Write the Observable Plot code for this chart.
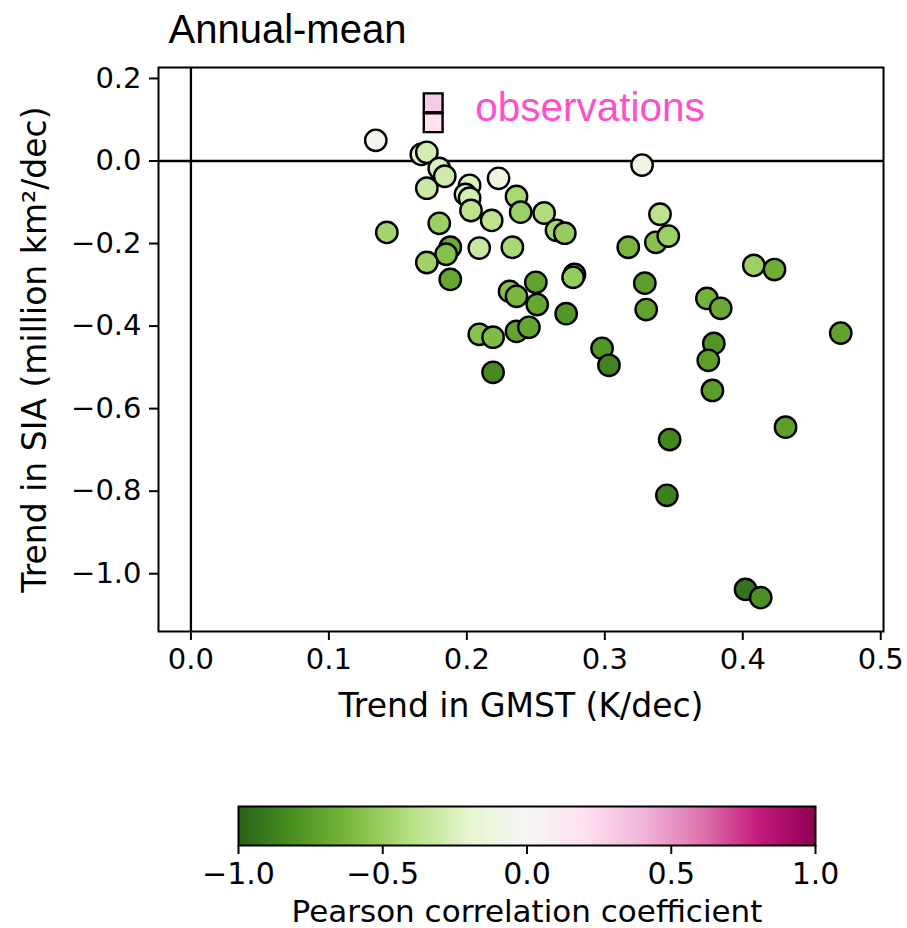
<!DOCTYPE html>
<html>
<head>
<meta charset="utf-8">
<script src="https://cdn.jsdelivr.net/npm/d3@7"></script>
<script src="https://cdn.jsdelivr.net/npm/@observablehq/plot@0.6"></script>
<style>
  html, body { margin: 0; padding: 0; background: #fff; }
  #fig { position: relative; width: 907px; height: 928px; overflow: hidden; }
  #main { position: absolute; left: 0; top: 0; }
  #cbar { position: absolute; left: 0; top: 790px; }
</style>
</head>
<body>
<div id="fig"><div id="main"></div><div id="cbar"></div></div>
<script>
// Per-model trends: GMST (K/dec), sea-ice area (million km²/dec),
// and the Pearson correlation coefficient used for the fill colour.
const gmstTrend = [
  0.134, 0.167, 0.171, 0.180, 0.184, 0.171, 0.202, 0.199, 0.202, 0.203,
  0.223, 0.218, 0.236, 0.239, 0.256, 0.265, 0.271, 0.142, 0.180, 0.188,
  0.185, 0.171, 0.209, 0.233, 0.188, 0.231, 0.236, 0.250, 0.251, 0.278,
  0.277, 0.272, 0.209, 0.219, 0.236, 0.245, 0.219, 0.298, 0.303, 0.327,
  0.340, 0.337, 0.346, 0.317, 0.329, 0.330, 0.408, 0.423, 0.374, 0.384,
  0.471, 0.379, 0.375, 0.378, 0.431, 0.347, 0.345, 0.402, 0.413
];
const siaTrend = [
  0.050, 0.016, 0.021, -0.018, -0.037, -0.066, -0.059, -0.081, -0.090, -0.120,
  -0.042, -0.144, -0.086, -0.124, -0.126, -0.168, -0.175, -0.173, -0.151, -0.209,
  -0.226, -0.246, -0.211, -0.209, -0.287, -0.316, -0.328, -0.294, -0.348, -0.275,
  -0.282, -0.370, -0.420, -0.427, -0.413, -0.403, -0.512, -0.454, -0.495, -0.010,
  -0.129, -0.197, -0.182, -0.209, -0.296, -0.360, -0.253, -0.263, -0.333, -0.357,
  -0.417, -0.442, -0.483, -0.556, -0.645, -0.675, -0.810, -1.038, -1.058
];
const pearsonR = [
  -0.03, -0.22, -0.28, -0.25, -0.30, -0.32, -0.25, -0.22, -0.28, -0.38,
  -0.12, -0.38, -0.45, -0.50, -0.42, -0.47, -0.52, -0.47, -0.50, -0.68,
  -0.58, -0.48, -0.33, -0.45, -0.70, -0.57, -0.63, -0.72, -0.70, -0.60,
  -0.52, -0.78, -0.57, -0.60, -0.72, -0.70, -0.83, -0.78, -0.86, -0.12,
  -0.38, -0.57, -0.50, -0.63, -0.74, -0.72, -0.50, -0.66, -0.64, -0.68,
  -0.72, -0.78, -0.74, -0.75, -0.74, -0.85, -0.88, -0.93, -0.80
];

// Observational estimates
const obsGmst = [0.1756, 0.1756];
const obsSia = [0.141, 0.0926];
const obsR = [0.30, 0.18];

// Axis ticks
const xTicks = [0, 0.1, 0.2, 0.3, 0.4, 0.5];
const yTicks = [0.2, 0, -0.2, -0.4, -0.6, -0.8, -1.0];
const cbarTicks = [-1, -0.5, 0, 0.5, 1];

// Diverging PiYG stops, green for negative correlation
const pivDomain = [-1, -0.8, -0.6, -0.4, -0.2, 0, 0.2, 0.4, 0.6, 0.8, 1];
const pivColors = ["#276419", "#4d9221", "#7fbc41", "#b8e186", "#e6f5d0", "#f7f7f7",
                   "#fde0ef", "#f1b6da", "#de77ae", "#c51b7d", "#8e0152"];

const models = gmstTrend.map((x, i) => ({x, y: siaTrend[i], r: pearsonR[i]}));
const obs = obsGmst.map((x, i) => ({x, y: obsSia[i], r: obsR[i]}));

const colorScale = {type: "linear", domain: pivDomain, range: pivColors, interpolate: "rgb"};
const fmt = d3.format(".1f");
const sans = "DejaVu Sans, sans-serif";
const helv = "Liberation Sans, Arial, sans-serif";

const main = Plot.plot({
  width: 907,
  height: 720,
  marginLeft: 158,
  marginRight: 24,
  marginTop: 67,
  marginBottom: 89,
  style: {fontFamily: sans, fontSize: "29px", color: "#000", background: "#fff", overflow: "visible"},
  x: {domain: [-0.0235, 0.502]},
  y: {domain: [-1.14, 0.2265]},
  color: colorScale,
  marks: [
    Plot.ruleY([0], {stroke: "#000", strokeWidth: 2.3}),
    Plot.ruleX([0], {stroke: "#000", strokeWidth: 2.3}),
    Plot.axisX({ticks: xTicks, tickFormat: fmt, tickSize: 9, tickPadding: 8, strokeWidth: 2, label: null, fontSize: 29}),
    Plot.axisY({ticks: yTicks, tickFormat: fmt, tickSize: 9, tickPadding: 8, strokeWidth: 2, label: null, fontSize: 29}),
    Plot.dot(models, {x: "x", y: "y", fill: "r", r: 10.7, stroke: "#000", strokeWidth: 2.4}),
    Plot.dot(obs, {x: "x", y: "y", fill: "r", symbol: "square", r: 10.6, stroke: "#000", strokeWidth: 2.4}),
    Plot.text(["observations"], {x: 0.206, y: 0.128, textAnchor: "start", fill: "#ff4fcb", fontSize: 40.5, fontFamily: helv}),
    Plot.frame({stroke: "#000", strokeWidth: 2}),
    Plot.text(["Annual-mean"], {frameAnchor: "top-left", textAnchor: "start", lineAnchor: "bottom", dx: 10, dy: -25, fontSize: 40, fontFamily: helv}),
    Plot.text(["Trend in GMST (K/dec)"], {frameAnchor: "bottom", lineAnchor: "middle", dy: 75, fontSize: 33}),
    Plot.text(["Trend in SIA (million km²/dec)"], {frameAnchor: "left", rotate: -90, textAnchor: "middle", lineAnchor: "middle", dx: -123, fontSize: 33})
  ]
});
document.getElementById("main").appendChild(main);

const cbar = Plot.plot({
  width: 907,
  height: 138,
  marginLeft: 238,
  marginRight: 92,
  marginTop: 16,
  marginBottom: 83,
  style: {fontFamily: sans, fontSize: "30px", color: "#000", background: "#fff", overflow: "visible"},
  x: {domain: [-1, 1]},
  y: {domain: [0, 1], axis: null},
  color: colorScale,
  marks: [
    Plot.raster({x1: -1, x2: 1, y1: 0, y2: 1, fill: (x, y) => x}),
    Plot.frame({stroke: "#000", strokeWidth: 2}),
    Plot.axisX({ticks: cbarTicks, tickFormat: fmt, tickSize: 9, tickPadding: 8, strokeWidth: 2, label: null, fontSize: 30}),
    Plot.text(["Pearson correlation coefficient"], {frameAnchor: "bottom", lineAnchor: "middle", dy: 67, fontSize: 31})
  ]
});
document.getElementById("cbar").appendChild(cbar);
</script>
</body>
</html>
